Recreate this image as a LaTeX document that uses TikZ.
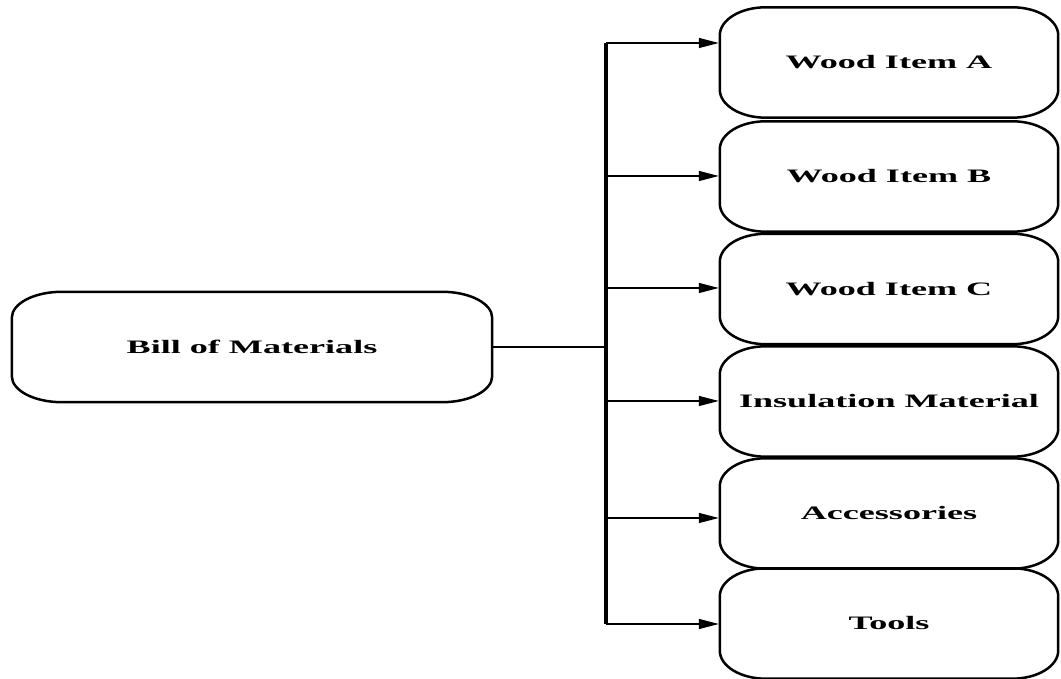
\documentclass[tikz,border=0pt]{standalone}
\usepackage{fontspec}
\setmainfont{Liberation Serif}
\usetikzlibrary{arrows.meta}

% Rounded box outline with elliptical corners, drawn around a named node
\newcommand\ovalframe[3]{% node, x radius, y radius
  \draw[boxline]
    ([xshift=#2]#1.north west) -- ([xshift=-#2]#1.north east)
    arc[start angle=90,end angle=0,x radius=#2,y radius=#3]
    -- ([yshift=#3]#1.south east)
    arc[start angle=0,end angle=-90,x radius=#2,y radius=#3]
    -- ([xshift=#2]#1.south west)
    arc[start angle=270,end angle=180,x radius=#2,y radius=#3]
    -- ([yshift=-#3]#1.north west)
    arc[start angle=180,end angle=90,x radius=#2,y radius=#3] -- cycle;}

\newcommand\lbl[1]{\scalebox{1.9}[1]{\bfseries #1}}

\tikzset{
  boxline/.style={line width=2.5pt, line join=round},
  itembox/.style={rectangle, minimum width=338pt, minimum height=110pt,
                  inner sep=0pt, font=\fontsize{19}{22}\selectfont},
  rootbox/.style={rectangle, minimum width=480pt, minimum height=110pt,
                  inner sep=0pt, font=\fontsize{19}{22}\selectfont},
  busline/.style={line width=3.2pt},
  feedline/.style={line width=1.4pt},
  arrowline/.style={line width=1.4pt, -{Triangle[length=20pt,width=10pt]}, shorten >=1pt},
}

\begin{document}
\begin{tikzpicture}[x=1pt,y=1pt]
  \useasboundingbox (0,0) rectangle (1061,679);

  % root node
  \node[rootbox] (bom) at (252,332) {\lbl{Bill of Materials}};
  \ovalframe{bom}{50pt}{26pt}

  % item nodes (y measured upward from the bottom edge)
  \node[itembox] (wa)  at (889,616.5) {\lbl{Wood Item A}};
  \node[itembox] (wb)  at (889,502.5) {\lbl{Wood Item B}};
  \node[itembox] (wc)  at (889,390)   {\lbl{Wood Item C}};
  \node[itembox] (ins) at (889,277.5) {\lbl{Insulation Material}};
  \node[itembox] (acc) at (889,165.5) {\lbl{Accessories}};
  \node[itembox] (tls) at (889,55.5)  {\lbl{Tools}};
  \foreach \n in {wa,wb,wc,ins,acc,tls}{\ovalframe{\n}{46pt}{28pt}}

  % taps on the distribution bus
  \coordinate (ta) at (606,636);
  \coordinate (tb) at (606,503);
  \coordinate (tc) at (606,391);
  \coordinate (ti) at (606,278);
  \coordinate (tacc) at (606,161);
  \coordinate (tt) at (606,55);

  % bus and feed from the root
  \draw[busline] (ta) -- (tt);
  \draw[feedline] (bom.east) -- (bom.east -| ta);

  % branches to each item
  \draw[arrowline] (ta) -- (ta -| wa.west);
  \draw[arrowline] (tb) -- (tb -| wb.west);
  \draw[arrowline] (tc) -- (tc -| wc.west);
  \draw[arrowline] (ti) -- (ti -| ins.west);
  \draw[arrowline] (tacc) -- (tacc -| acc.west);
  \draw[arrowline] (tt) -- (tt -| tls.west);
\end{tikzpicture}
\end{document}
